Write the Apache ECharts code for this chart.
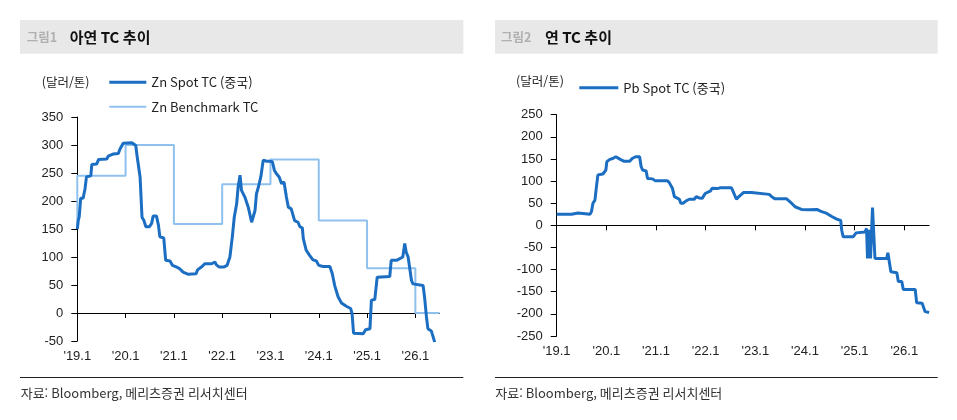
<!DOCTYPE html>
<html lang="ko">
<head>
<meta charset="UTF-8">
<title>아연 / 연 TC 추이</title>
<script src="https://cdn.jsdelivr.net/npm/echarts@6/dist/echarts.min.js"></script>
<style>
  html, body { margin: 0; padding: 0; background: #fff; }
  #chart { width: 957px; height: 420px; }
</style>
</head>
<body>
<div id="chart"></div>
<script>
// x axis ticks / labels (year start)
const yearTicks = [2019, 2020, 2021, 2022, 2023, 2024, 2025, 2026];
const yearLabels = ["'19.1", "'20.1", "'21.1", "'22.1", "'23.1", "'24.1", "'25.1", "'26.1"];

// 그림1: Zn Spot TC (중국), 달러/톤
const znSpotYear = [
  2019.00, 2019.02, 2019.04, 2019.07, 2019.12, 2019.16, 2019.19, 2019.28, 2019.30, 2019.40,
  2019.44, 2019.61, 2019.64, 2019.75, 2019.85, 2019.88, 2019.95, 2020.13, 2020.21, 2020.24,
  2020.30, 2020.34, 2020.38, 2020.42, 2020.49, 2020.54, 2020.57, 2020.64, 2020.68, 2020.71,
  2020.79, 2020.83, 2020.92, 2020.97, 2021.06, 2021.12, 2021.19, 2021.30, 2021.46, 2021.49,
  2021.57, 2021.64, 2021.78, 2021.85, 2021.88, 2021.94, 2022.03, 2022.10, 2022.16, 2022.21,
  2022.25, 2022.30, 2022.33, 2022.37, 2022.40, 2022.47, 2022.54, 2022.61, 2022.64, 2022.68,
  2022.71, 2022.75, 2022.80, 2022.85, 2022.92, 2022.99, 2023.04, 2023.08, 2023.12, 2023.18,
  2023.23, 2023.28, 2023.33, 2023.37, 2023.43, 2023.47, 2023.50, 2023.57, 2023.61, 2023.66,
  2023.68, 2023.74, 2023.81, 2023.88, 2023.95, 2024.00, 2024.09, 2024.23, 2024.28, 2024.33,
  2024.40, 2024.47, 2024.57, 2024.66, 2024.69, 2024.72, 2024.92, 2024.97, 2025.06, 2025.09,
  2025.16, 2025.21, 2025.25, 2025.47, 2025.50, 2025.61, 2025.64, 2025.74, 2025.78, 2025.81,
  2025.85, 2025.88, 2025.92, 2025.95, 2025.99, 2026.16, 2026.19, 2026.23, 2026.26, 2026.33,
  2026.37, 2026.40
];
const znSpotTC = [
  150, 165, 172, 205, 205, 222, 243, 245, 265, 266,
  274, 275, 280, 284, 285, 292, 303, 304, 299, 279,
  243, 171, 165, 154, 154, 160, 173, 173, 157, 136,
  134, 94, 93, 85, 82, 79, 73, 69, 70, 77,
  82, 88, 88, 91, 86, 82, 82, 85, 100, 136,
  171, 195, 225, 246, 219, 207, 189, 162, 160, 183,
  213, 225, 243, 273, 271, 271, 270, 255, 249, 243,
  231, 234, 207, 189, 186, 183, 165, 162, 154, 152,
  133, 112, 103, 95, 93, 85, 83, 83, 70, 49,
  29, 18, 12, 8, -1, -36, -37, -30, -28, 23,
  24, 64, 65, 65, 94, 94, 97, 100, 124, 109,
  100, 82, 58, 52, 49, 49, 29, -7, -28, -32,
  -43, -52
];

// 그림1: Zn Benchmark TC (연간 단계)
const znBenchYear = [2019, 2019, 2020, 2021, 2022, 2023, 2024, 2025, 2026, 2026.5];
const znBenchTC = [150, 245, 300, 159, 230, 274, 165, 80, 0, 0];

// 그림2: Pb Spot TC (중국), 달러/톤
const pbSpotYear = [
  2019.00, 2019.30, 2019.33, 2019.43, 2019.47, 2019.67, 2019.70, 2019.73, 2019.77, 2019.80,
  2019.83, 2019.93, 2019.99, 2020.01, 2020.07, 2020.13, 2020.19, 2020.23, 2020.28, 2020.35,
  2020.47, 2020.52, 2020.59, 2020.67, 2020.70, 2020.73, 2020.80, 2020.83, 2020.93, 2020.98,
  2021.23, 2021.27, 2021.30, 2021.33, 2021.37, 2021.40, 2021.47, 2021.50, 2021.55, 2021.60,
  2021.67, 2021.77, 2021.81, 2021.87, 2021.93, 2021.99, 2022.03, 2022.10, 2022.13, 2022.23,
  2022.30, 2022.52, 2022.57, 2022.62, 2022.67, 2022.76, 2022.92, 2022.96, 2023.28, 2023.33,
  2023.39, 2023.63, 2023.73, 2023.80, 2023.93, 2024.07, 2024.24, 2024.31, 2024.44, 2024.54,
  2024.64, 2024.72, 2024.74, 2024.77, 2024.97, 2025.03, 2025.21, 2025.24, 2025.26, 2025.29,
  2025.32, 2025.36, 2025.41, 2025.645, 2025.67, 2025.73, 2025.85, 2025.88, 2025.95, 2025.98,
  2026.22, 2026.25, 2026.36, 2026.42, 2026.50
];
const pbSpotTC = [
  25, 25, 28, 28, 25, 25, 31, 50, 57, 87,
  114, 116, 125, 144, 149, 151, 155, 154, 149, 145,
  145, 151, 155, 155, 133, 125, 123, 106, 105, 101,
  101, 96, 95, 84, 65, 61, 59, 50, 50, 55,
  59, 59, 65, 62, 61, 72, 75, 78, 84, 83,
  85, 85, 72, 59, 65, 74, 74, 70, 70, 65,
  60, 60, 50, 42, 36, 35, 36, 32, 27, 20,
  14, 11, -11, -26, -26, -17, -15, -7, -75, -10,
  -75, 40, -75, -75, -62, -105, -107, -127, -127, -145,
  -145, -175, -176, -195, -197
];

const DARK = '#1b6ec2';
const LIGHT = '#8fc1ef';
const KR = '"Noto Sans CJK KR", "Noto Sans", sans-serif';
const NUM = '"Liberation Sans", Arial, sans-serif';

function zip(xs, ys) {
  return xs.map((x, i) => [x, ys[i]]);
}

// two x axes per grid: one only for the labels at the bottom, one as the zero line with ticks
function xAxesFor(gridIndex) {
  return [
    {
      type: 'value', gridIndex: gridIndex, position: 'bottom', min: 2019, max: 2026.5,
      axisLine: { show: false, onZero: false },
      axisTick: { show: false },
      splitLine: { show: false },
      axisLabel: {
        customValues: yearTicks,
        formatter: v => yearLabels[yearTicks.indexOf(v)],
        margin: 9, color: '#222', fontFamily: NUM, fontSize: 13
      }
    },
    {
      type: 'value', gridIndex: gridIndex, position: 'bottom', min: 2019, max: 2026.5,
      axisLine: { show: true, onZero: true, lineStyle: { color: '#000', width: 1 } },
      axisTick: { show: true, customValues: yearTicks, length: 5, lineStyle: { color: '#000' } },
      axisLabel: { show: false },
      splitLine: { show: false }
    }
  ];
}

function yAxisFor(gridIndex, min, max) {
  return {
    type: 'value', gridIndex: gridIndex, min: min, max: max, interval: 50,
    axisLine: { show: true, onZero: false, lineStyle: { color: '#000', width: 1 } },
    axisTick: { show: true, length: 6, lineStyle: { color: '#000' } },
    axisLabel: { margin: 14, color: '#222', fontFamily: NUM, fontSize: 13 },
    splitLine: { show: false }
  };
}

function legendFor(name, left, top, width, height) {
  return {
    left: left, top: top, padding: 0, selectedMode: false,
    itemWidth: width, itemHeight: height,
    data: [{ name: name, icon: 'rect' }],
    textStyle: { fontFamily: KR, fontSize: 13, color: '#222' }
  };
}

function text(str, x, y, size, color, weight) {
  return {
    type: 'text', x: x, y: y, silent: true,
    style: {
      text: str, fontFamily: KR, fontSize: size, fontWeight: weight || 'normal',
      fill: color, verticalAlign: 'middle'
    }
  };
}

const chart = echarts.init(document.getElementById('chart'));

chart.setOption({
  animation: false,
  grid: [
    { left: 77.3, top: 117, width: 362.2, height: 224 },
    { left: 556.7, top: 114.7, width: 372.4, height: 221.3 }
  ],
  xAxis: xAxesFor(0).concat(xAxesFor(1)),
  yAxis: [yAxisFor(0, -50, 350), yAxisFor(1, -250, 250)],
  legend: [
    legendFor('Zn Spot TC (중국)', 109.3, 75.8, 37, 3),
    legendFor('Zn Benchmark TC', 109.3, 100.2, 37, 2),
    legendFor('Pb Spot TC (중국)', 579.3, 81.2, 39, 3)
  ],
  graphic: [
    { type: 'rect', silent: true, shape: { x: 20, y: 20, width: 443.3, height: 33.7 }, style: { fill: '#e8e8e8' } },
    { type: 'rect', silent: true, shape: { x: 495, y: 20, width: 442.7, height: 33.7 }, style: { fill: '#e8e8e8' } },
    text('그림1', 26.7, 37.5, 12.5, '#b0b0b0', 'bold'),
    text('아연 TC 추이', 69.7, 37.5, 15, '#111', 'bold'),
    text('그림2', 501, 37.5, 12.5, '#b0b0b0', 'bold'),
    text('연 TC 추이', 545, 37.5, 15, '#111', 'bold'),
    text('(달러/톤)', 41.7, 82.3, 12.5, '#222'),
    text('(달러/톤)', 516, 81.7, 12.5, '#222'),
    { type: 'line', silent: true, shape: { x1: 20, y1: 377.5, x2: 463.3, y2: 377.5 }, style: { stroke: '#222', lineWidth: 1 } },
    { type: 'line', silent: true, shape: { x1: 495, y1: 377.5, x2: 937.7, y2: 377.5 }, style: { stroke: '#222', lineWidth: 1 } },
    text('자료: Bloomberg, 메리츠증권 리서치센터', 20.7, 393, 13, '#333'),
    text('자료: Bloomberg, 메리츠증권 리서치센터', 495.3, 393, 13, '#333')
  ],
  series: [
    {
      name: 'Zn Benchmark TC', type: 'line', step: 'end',
      xAxisIndex: 0, yAxisIndex: 0,
      data: zip(znBenchYear, znBenchTC),
      showSymbol: false, symbol: 'none', z: 2,
      lineStyle: { width: 2, color: LIGHT }, itemStyle: { color: LIGHT }
    },
    {
      name: 'Zn Spot TC (중국)', type: 'line',
      xAxisIndex: 0, yAxisIndex: 0,
      data: zip(znSpotYear, znSpotTC),
      showSymbol: false, symbol: 'none', z: 3,
      lineStyle: { width: 3, color: DARK }, itemStyle: { color: DARK }
    },
    {
      name: 'Pb Spot TC (중국)', type: 'line',
      xAxisIndex: 2, yAxisIndex: 1,
      data: zip(pbSpotYear, pbSpotTC),
      showSymbol: false, symbol: 'none', z: 3,
      lineStyle: { width: 3, color: DARK }, itemStyle: { color: DARK }
    }
  ]
});
</script>
</body>
</html>
